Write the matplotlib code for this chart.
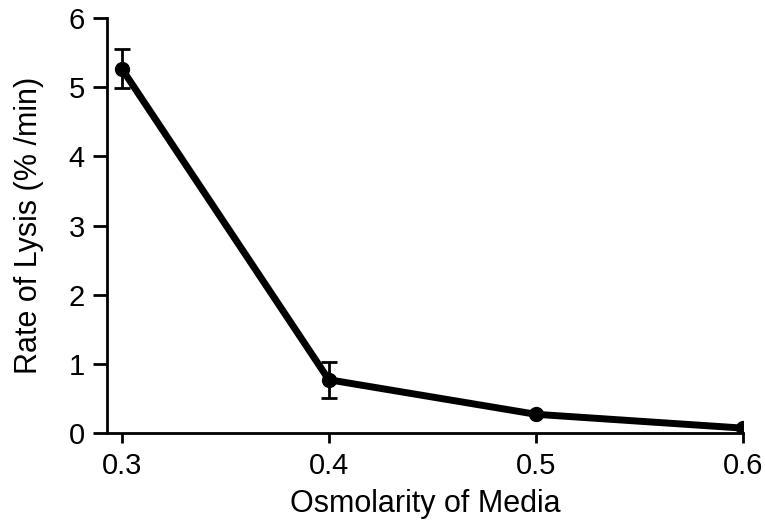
import matplotlib
matplotlib.use("Agg")
import matplotlib.pyplot as plt

plt.rcParams["font.family"] = ["Liberation Sans", "DejaVu Sans"]

osmolarity = [0.3, 0.4, 0.5, 0.6]
lysis_rate = [5.27, 0.77, 0.27, 0.07]
lysis_err = [0.28, 0.26, 0.0, 0.0]
x_ticks = [0.3, 0.4, 0.5, 0.6]
y_ticks = [0, 1, 2, 3, 4, 5, 6]

fig = plt.figure(figsize=(7.65, 5.21), dpi=100)
ax = fig.add_axes([0.140, 0.169, 0.831, 0.796])

ax.errorbar(osmolarity, lysis_rate, yerr=lysis_err, color="black", lw=5,
            marker="o", ms=10, elinewidth=2, capsize=6, capthick=2,
            solid_capstyle="round")

ax.set_xlim(0.2929, 0.6)
ax.set_ylim(0, 6)
ax.set_xticks(x_ticks)
ax.set_xticklabels([f"{v:.1f}" for v in x_ticks])
ax.set_yticks(y_ticks)
for side in ("top", "right"):
    ax.spines[side].set_visible(False)
for side in ("left", "bottom"):
    ax.spines[side].set_linewidth(2)
ax.tick_params(axis="both", direction="out", width=2, labelsize=21)
ax.tick_params(axis="y", length=10, pad=6)
ax.tick_params(axis="x", length=7, pad=7)

ax.set_xlabel("Osmolarity of Media", fontsize=22, labelpad=6)
ax.set_ylabel("Rate of Lysis (% /min)", fontsize=22, labelpad=18)

fig.savefig("out.png", dpi=100)
